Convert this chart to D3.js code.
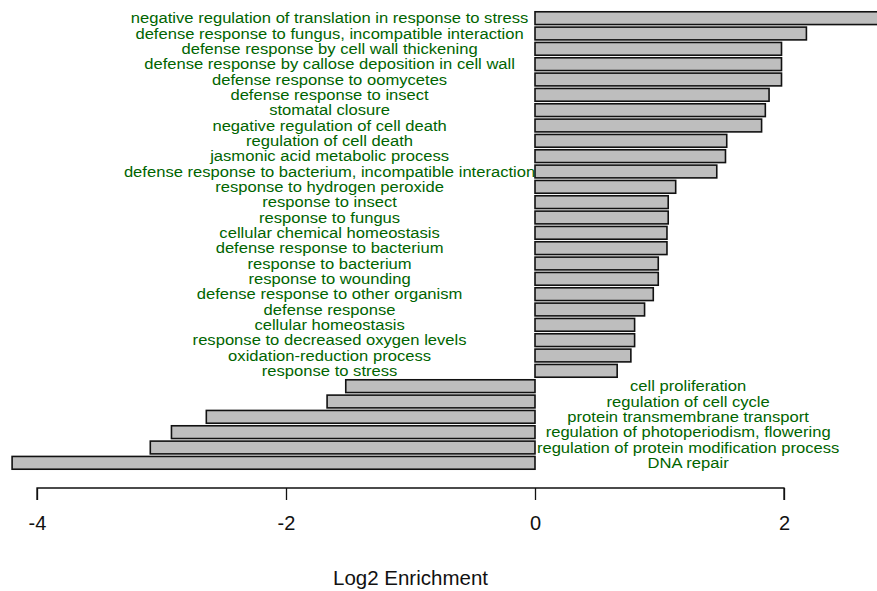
<!DOCTYPE html>
<html>
<head>
<meta charset="utf-8">
<script src="https://cdn.jsdelivr.net/npm/d3@7"></script>
<style>
  html, body { margin: 0; padding: 0; background: #fff; }
  svg { display: block; }
  text { font-family: "Liberation Sans", Arial, sans-serif; }
</style>
</head>
<body>
<svg id="chart" width="877" height="591"></svg>
<script>
// GO terms, top to bottom
const terms = [
  "negative regulation of translation in response to stress",
  "defense response to fungus, incompatible interaction",
  "defense response by cell wall thickening",
  "defense response by callose deposition in cell wall",
  "defense response to oomycetes",
  "defense response to insect",
  "stomatal closure",
  "negative regulation of cell death",
  "regulation of cell death",
  "jasmonic acid metabolic process",
  "defense response to bacterium, incompatible interaction",
  "response to hydrogen peroxide",
  "response to insect",
  "response to fungus",
  "cellular chemical homeostasis",
  "defense response to bacterium",
  "response to bacterium",
  "response to wounding",
  "defense response to other organism",
  "defense response",
  "cellular homeostasis",
  "response to decreased oxygen levels",
  "oxidation-reduction process",
  "response to stress",
  "cell proliferation",
  "regulation of cell cycle",
  "protein transmembrane transport",
  "regulation of photoperiodism, flowering",
  "regulation of protein modification process",
  "DNA repair"
];

// log2 enrichment per term
const log2Enrichment = [
  2.90, 2.18, 1.98, 1.98, 1.98, 1.88, 1.85, 1.82, 1.54, 1.53,
  1.46, 1.13, 1.07, 1.07, 1.06, 1.06, 0.99, 0.99, 0.95, 0.88,
  0.80, 0.80, 0.77, 0.66,
  -1.52, -1.67, -2.64, -2.92, -3.09, -4.20
];

const xTicks = [-4, -2, 0, 2];
const xTitle = "Log2 Enrichment";

const svg = d3.select("#chart");
const labelColor = "#006400";

const x = d3.scaleLinear().domain([-4, 2]).range([37, 784]);
const y = d3.scaleBand()
  .domain(d3.range(terms.length))
  .range([10.5, 470.5])
  .paddingInner(1 / 6)
  .paddingOuter(1 / 12);

const plot = svg.append("g");

// bars
plot.selectAll("rect.bar")
  .data(log2Enrichment)
  .join("rect")
  .attr("class", "bar")
  .attr("x", d => x(Math.min(0, d)))
  .attr("y", (d, i) => y(i))
  .attr("width", d => Math.abs(x(d) - x(0)))
  .attr("height", y.bandwidth())
  .attr("fill", "#bebebe")
  .attr("stroke", "#111")
  .attr("stroke-width", 1.6);

// term labels: enriched terms on the left of zero, depleted on the right.
// Slightly widened glyphs so the rows stay compact vertically.
const leftCenter = x(-1.65);
const rightCenter = x(1.23);
const labelSize = 14.6;
const labelStretch = 16.6 / labelSize;
plot.selectAll("text.term")
  .data(terms)
  .join("text")
  .attr("class", "term")
  .attr("transform", (d, i) => {
    const cx = log2Enrichment[i] >= 0 ? leftCenter : rightCenter;
    const cy = y(i) + y.bandwidth() / 2;
    return `translate(${cx},${cy}) scale(${labelStretch},1)`;
  })
  .attr("dy", "0.36em")
  .attr("text-anchor", "middle")
  .attr("font-size", labelSize)
  .attr("fill", labelColor)
  .text(d => d);

// x axis
const axis = d3.axisBottom(x)
  .tickValues(xTicks)
  .tickSize(12)
  .tickPadding(16)
  .tickFormat(d3.format("d"));

const gx = svg.append("g")
  .attr("transform", "translate(0,488)")
  .call(axis);
gx.select(".domain").attr("stroke", "#111").attr("stroke-width", 1.3)
  .attr("d", `M${x(-4)},12V0H${x(2)}V12`);
gx.selectAll(".tick line").attr("stroke", "#111").attr("stroke-width", 1.3);
gx.selectAll(".tick text")
  .attr("font-size", 20)
  .attr("fill", "#111")
  .attr("font-family", "Liberation Sans, Arial, sans-serif")
  .text(d => d < 0 ? "-" + Math.abs(d) : d);

svg.append("text")
  .attr("x", x(-1.0))
  .attr("y", 585)
  .attr("text-anchor", "middle")
  .attr("font-size", 20.5)
  .attr("fill", "#111")
  .text(xTitle);
</script>
</body>
</html>
